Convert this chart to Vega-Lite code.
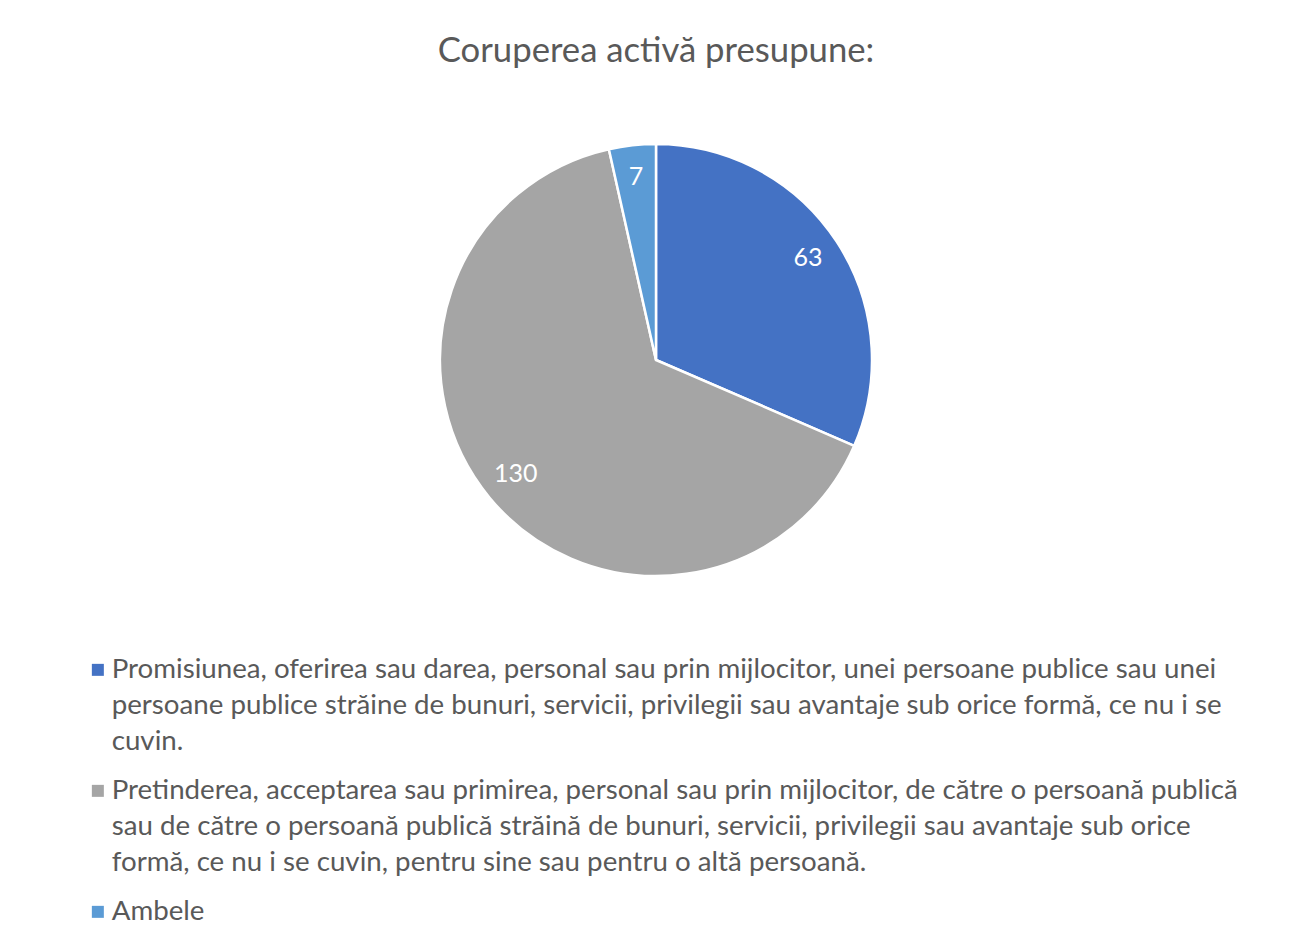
{
  "$schema": "https://vega.github.io/schema/vega-lite/v6.json",
  "width": 1296,
  "height": 520,
  "padding": {"left": 8, "top": 100, "right": 0, "bottom": 325},
  "autosize": {"type": "none"},
  "background": "white",
  "config": {"view": {"stroke": null}, "style": {"guide-label": {"lineHeight": 36, "dy": -14}}},
  "title": {
    "text": "Coruperea activă presupune:",
    "font": "Lato",
    "fontSize": 34.7,
    "fontWeight": "normal",
    "color": "#595959",
    "anchor": "middle",
    "offset": 30
  },
  "data": {
    "values": [
      {"nr": 1, "categorie": "Promisiunea, oferirea sau darea, personal sau prin mijlocitor, unei persoane publice sau unei|persoane publice străine de bunuri, servicii, privilegii sau avantaje sub orice formă, ce nu i se|cuvin.", "valoare": 63},
      {"nr": 2, "categorie": "Pretinderea, acceptarea sau primirea, personal sau prin mijlocitor, de către o persoană publică|sau de către o persoană publică străină de bunuri, servicii, privilegii sau avantaje sub orice|formă, ce nu i se cuvin, pentru sine sau pentru o altă persoană.", "valoare": 130},
      {"nr": 3, "categorie": "Ambele", "valoare": 7}
    ]
  },
  "encoding": {
    "theta": {"field": "valoare", "type": "quantitative", "stack": true},
    "order": {"field": "nr", "type": "quantitative"},
    "color": {
      "field": "categorie",
      "type": "nominal",
      "sort": null,
      "scale": {"range": ["#4472C4", "#A5A5A5", "#5B9BD5"]},
      "legend": {
        "title": null,
        "orient": "none",
        "legendX": 76,
        "legendY": 556,
        "direction": "vertical",
        "symbolType": "square",
        "symbolSize": 144,
        "symbolStrokeWidth": 0,
        "labelFont": "Lato",
        "labelFontSize": 27.7,
        "labelColor": "#595959",
        "labelLimit": 2000,
        "labelOffset": 0,
        "labelBaseline": "top",
        "labelExpr": "split(datum.label, '|')",
        "rowPadding": 20,
        "padding": 0
      }
    }
  },
  "layer": [
    {"mark": {"type": "arc", "radius": 216, "stroke": "white", "strokeWidth": 2.5}},
    {
      "mark": {"type": "text", "radius": 182, "font": "Lato", "fontSize": 25, "color": "white", "dy": -2},
      "encoding": {"text": {"field": "valoare", "type": "quantitative"}, "color": {"value": "white"}}
    }
  ]
}
